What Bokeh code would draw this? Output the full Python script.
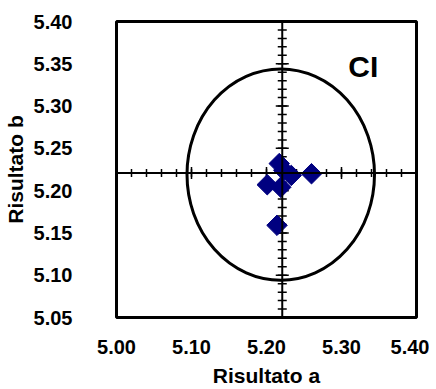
import numpy as np
from bokeh.plotting import figure
from bokeh.models import Span, Label, FixedTicker, NumeralTickFormatter
from bokeh.embed import file_html
from bokeh.resources import INLINE

# Data
res_a = [5.217, 5.223, 5.233, 5.219, 5.201, 5.260, 5.214]
res_b = [5.232, 5.224, 5.218, 5.204, 5.207, 5.220, 5.159]

center_a = 5.219
center_b = 5.219
radius = 0.125
cross_a = 5.221
cross_b = 5.221

x_major = [5.00, 5.10, 5.20, 5.30, 5.40]
y_major = [5.05, 5.10, 5.15, 5.20, 5.25, 5.30, 5.35, 5.40]
x_minor = [round(v, 2) for v in np.arange(5.00, 5.401, 0.02)]
y_minor = [round(v, 2) for v in np.arange(5.05, 5.401, 0.01)]

FONT = "Liberation Sans"

p = figure(frame_width=300, frame_height=296, x_range=(5.00, 5.40), y_range=(5.05, 5.40),
           output_backend="svg", toolbar_location=None,
           min_border_left=116, min_border_top=21, min_border_right=13, min_border_bottom=70)
p.background_fill_color = "white"
p.border_fill_color = "white"
p.outline_line_color = "black"
p.outline_line_width = 3
p.grid.visible = False

for ax in (p.xaxis[0], p.yaxis[0]):
    ax.axis_line_color = None
    ax.major_tick_line_color = None
    ax.minor_tick_line_color = None
    ax.major_tick_out = 0
    ax.major_tick_in = 0
    ax.minor_tick_out = 0
    ax.minor_tick_in = 0
    ax.major_label_text_font = FONT
    ax.major_label_text_font_style = "bold"
    ax.major_label_text_font_size = "20px"
    ax.major_label_text_color = "black"
    ax.axis_label_text_font = FONT
    ax.axis_label_text_font_style = "bold"
    ax.axis_label_text_font_size = "21px"
    ax.axis_label_text_color = "black"
    ax.formatter = NumeralTickFormatter(format="0.00")

p.xaxis.ticker = FixedTicker(ticks=x_major)
p.yaxis.ticker = FixedTicker(ticks=y_major)
p.xaxis.axis_label = "Risultato a"
p.yaxis.axis_label = "Risultato b"
p.xaxis.major_label_standoff = 22
p.yaxis.major_label_standoff = 44
p.xaxis.axis_label_standoff = 7
p.yaxis.axis_label_standoff = 4

# crosshair axes
p.add_layout(Span(location=cross_a, dimension="height", line_color="black", line_width=2))
p.add_layout(Span(location=cross_b, dimension="width", line_color="black", line_width=2))

# tick marks on crosshair
p.scatter(x=x_minor, y=[cross_b] * len(x_minor), marker="dash", size=8, angle=np.pi / 2,
          line_color="black", line_width=1.5)
p.scatter(x=x_major, y=[cross_b] * len(x_major), marker="dash", size=12, angle=np.pi / 2,
          line_color="black", line_width=1.5)
p.scatter(x=[cross_a] * len(y_minor), y=y_minor, marker="dash", size=9,
          line_color="black", line_width=1.5)
p.scatter(x=[cross_a] * len(y_major), y=y_major, marker="dash", size=13,
          line_color="black", line_width=1.5)

# confidence circle
p.ellipse(x=[center_a], y=[center_b], width=2 * radius, height=2 * radius,
          fill_color=None, line_color="black", line_width=3)

# points
p.scatter(x=res_a, y=res_b, marker="square", angle=np.pi / 4, size=14.5,
          fill_color="#000080", line_color="#000080")

p.add_layout(Label(x=5.309, y=5.347, text="CI", text_font=FONT, text_font_style="bold",
                   text_font_size="30px", text_color="black", text_baseline="alphabetic"))

open("out.html", "w").write(file_html(p, INLINE))
